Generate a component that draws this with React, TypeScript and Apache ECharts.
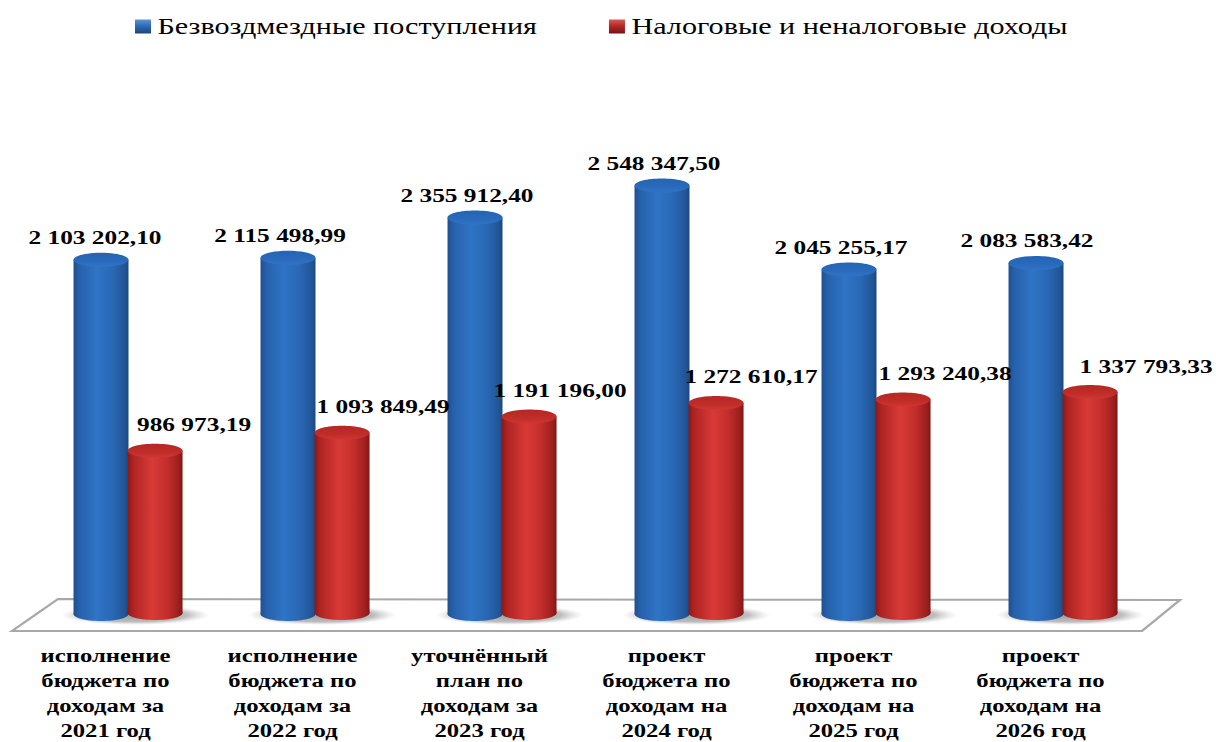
import React, { useEffect, useRef } from "react";
import * as echarts from "echarts";

const categories = [
  "исполнение\nбюджета по\nдоходам за\n2021 год",
  "исполнение\nбюджета по\nдоходам за\n2022 год",
  "уточнённый\nплан по\nдоходам за\n2023 год",
  "проект\nбюджета по\nдоходам на\n2024 год",
  "проект\nбюджета по\nдоходам на\n2025 год",
  "проект\nбюджета по\nдоходам на\n2026 год",
];
const grants = [2103202.1, 2115498.99, 2355912.4, 2548347.5, 2045255.17, 2083583.42];
const ownRevenue = [986973.19, 1093849.49, 1191196.0, 1272610.17, 1293240.38, 1337793.33];
const grantsName = "Безвоздмездные поступления";
const ownName = "Налоговые и неналоговые доходы";

// Layout: the source picture is stretched horizontally, so the whole chart is too.
const STRETCH = 1.3;
const W = 1216 / STRETCH;
const H = 742;
const px = (x: number) => x / STRETCH;
const FONT = '"Liberation Serif", "Times New Roman", serif';
const grantsLabelDx = [-6, -8, -8, -8, -8, -9];
const ownLabelDx = [39, 41, 31, 35, 42, 56];

const hGrad = (stops: [number, string][]) =>
  new echarts.graphic.LinearGradient(0, 0, 1, 0, stops.map(([offset, color]) => ({ offset, color })));
const vGrad = (stops: [number, string][]) =>
  new echarts.graphic.LinearGradient(0, 0, 0, 1, stops.map(([offset, color]) => ({ offset, color })));

const blueBody: [number, string][] = [
  [0, "#1f4f8e"], [0.1, "#2660aa"], [0.42, "#2f74c6"], [0.72, "#2967b4"], [0.93, "#215696"], [1, "#1b4880"],
];
const redBody: [number, string][] = [
  [0, "#8a1818"], [0.1, "#ae2423"], [0.45, "#d83a36"], [0.72, "#c22e2c"], [0.93, "#9c1f1e"], [1, "#7f1616"],
];
const blueTop: [number, string][] = [[0, "#2464b2"], [0.6, "#2a6abc"], [1, "#3074c6"]];
const redTop: [number, string][] = [[0, "#b42823"], [0.6, "#c02d29"], [1, "#d03632"]];

const fmt = (v: number) => {
  const [a, b] = v.toFixed(2).split(".");
  return a.replace(/\B(?=(\d{3})+(?!\d))/g, " ") + "," + b;
};

const cylinder = (
  body: [number, string][],
  top: [number, string][],
  bandShift: number,
  topOffset: number,
  baseOffset: number,
  labelDx: number[],
  withShadow: boolean,
) => (_: any, api: any) => {
  const i = api.value(0);
  const v = api.value(1);
  const [cx0, y0] = api.coord([i, v]);
  const zeroY = api.coord([i, 0])[1];
  const band = api.size([1, 0])[0];
  const rx = (band * 0.294) / 2;
  const ry = 7;
  const cx = cx0 + band * bandShift;
  const topY = y0 + topOffset;
  const baseY = zeroY + baseOffset;
  const children: any[] = [];
  if (withShadow) {
    children.push({
      type: "ellipse",
      shape: { cx: cx + rx * 1.25, cy: baseY + 1, rx: rx * 2.7, ry: 10 },
      style: {
        fill: new echarts.graphic.RadialGradient(0.5, 0.5, 0.5, [
          { offset: 0, color: "rgba(90,90,90,0.6)" },
          { offset: 0.7, color: "rgba(110,110,110,0.45)" },
          { offset: 1, color: "rgba(170,170,170,0)" },
        ]),
      },
    });
  }
  children.push(
    { type: "ellipse", shape: { cx, cy: baseY, rx, ry }, style: { fill: hGrad(body) } },
    { type: "rect", shape: { x: cx - rx, y: topY, width: rx * 2, height: baseY - topY }, style: { fill: hGrad(body) } },
    { type: "ellipse", shape: { cx, cy: topY, rx, ry }, style: { fill: vGrad(top) } },
    {
      type: "text",
      style: {
        text: fmt(v),
        x: cx + labelDx[i] / STRETCH,
        y: topY - (withShadow ? 22 : 26),
        textAlign: "center",
        textVerticalAlign: "middle",
        fontFamily: FONT,
        fontWeight: "bold",
        fontSize: 19.5,
        fill: "#000",
      },
    },
  );
  return { type: "group", children };
};

export default function App() {
  const ref = useRef<HTMLDivElement>(null);
  useEffect(() => {
    const chart = echarts.init(ref.current!, undefined, { renderer: "svg" });
    chart.setOption({
      animation: false,
      backgroundColor: "#fff",
      legend: {
        left: px(135),
        top: 15,
        padding: 0,
        itemGap: px(72),
        itemWidth: px(16),
        itemHeight: 14,
        icon: "rect",
        textStyle: { fontFamily: FONT, fontSize: 23.2, color: "#000" },
        data: [
          { name: grantsName, itemStyle: { color: vGrad([[0, "#5f93d6"], [0.45, "#2f6db8"], [1, "#1c4478"]]) } },
          { name: ownName, itemStyle: { color: vGrad([[0, "#d85a56"], [0.45, "#b52a28"], [1, "#701414"]]) } },
        ],
      },
      grid: { left: px(12), width: px(1122), top: 111, height: 501, outerBoundsMode: "none" },
      xAxis: {
        type: "category",
        data: categories,
        axisLine: { show: false },
        axisTick: { show: false },
        axisLabel: {
          interval: 0,
          margin: 31,
          color: "#000",
          fontFamily: FONT,
          fontWeight: "bold",
          fontSize: 19,
          lineHeight: 25,
          align: "center",
        },
      },
      yAxis: { type: "value", min: 0, max: 3000000, show: false, splitLine: { show: false } },
      graphic: [
        {
          type: "polygon",
          z: 0,
          shape: {
            points: [
              [px(12), 631],
              [px(1142), 631],
              [px(1180), 600],
              [px(58), 599],
            ],
          },
          style: { fill: "#fff", stroke: "#a8a8a8", lineWidth: 2 },
        },
      ],
      series: [
        {
          type: "custom",
          name: grantsName,
          clip: false,
          z: 3,
          itemStyle: { color: "#2f6db8" },
          encode: { x: 0, y: 1 },
          data: grants.map((v, i) => [i, v]),
          renderItem: cylinder(blueBody, blueTop, -0.024, -1, 2, grantsLabelDx, true),
        },
        {
          type: "custom",
          name: ownName,
          clip: false,
          z: 4,
          itemStyle: { color: "#b52a28" },
          encode: { x: 0, y: 1 },
          data: ownRevenue.map((v, i) => [i, v]),
          renderItem: cylinder(redBody, redTop, 0.265, 3.5, 1, ownLabelDx, false),
        },
      ],
    });
    return () => chart.dispose();
  }, []);
  return (
    <div
      ref={ref}
      style={{
        position: "absolute",
        left: 0,
        top: 0,
        width: W,
        height: H,
        transform: `scaleX(${STRETCH})`,
        transformOrigin: "0 0",
      }}
    />
  );
}
